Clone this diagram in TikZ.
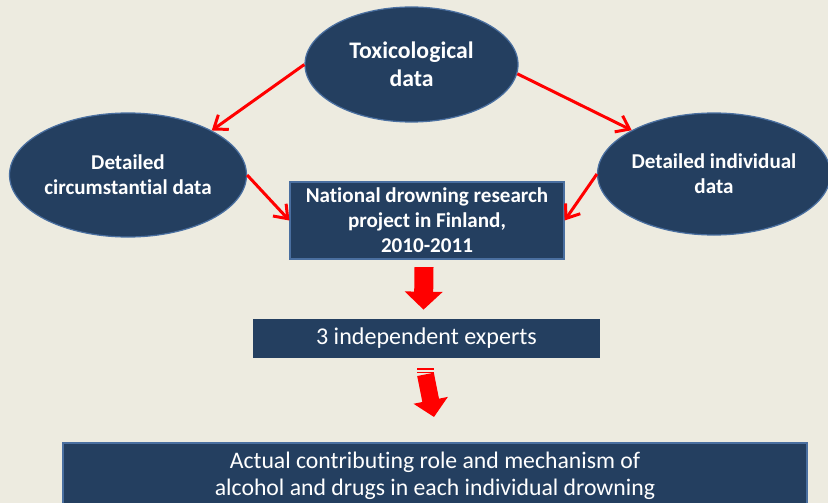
\documentclass[tikz,border=0pt]{standalone}
\usepackage{fontspec}
\setmainfont{Carlito}[Ligatures={NoCommon}]
\usetikzlibrary{arrows.meta,shapes.geometric}
\definecolor{paper}{HTML}{EDEBE0}
\definecolor{navy}{HTML}{243F60}
\definecolor{rim}{HTML}{4A6FA0}

\begin{document}
\begin{tikzpicture}[x=0.2mm, y=-0.2mm, >={Straight Barb[length=2.4mm, width=3.6mm]}]
	\tikzstyle{blob} = [ellipse, fill=navy, draw=rim, line width=0.7pt, inner sep=0pt, text=white, align=center]
	\tikzstyle{panel} = [rectangle, fill=navy, inner sep=0pt, text=white, align=center]
	\tikzstyle{link} = [->, red, line width=1.7pt]
	\tikzstyle{fat} = [red, line width=3.8mm, -{Triangle[length=3.6mm, width=7.4mm]}]
	\tikzstyle{fatter} = [red, line width=3.4mm, -{Triangle[length=3.4mm, width=6.8mm]}]

	\useasboundingbox[fill=paper] (0,0) rectangle (828,503);
	\clip (0,0) rectangle (828,503);

	% sources
	\node[blob, minimum width=42.6mm, minimum height=23mm, font=\bfseries\fontsize{13.5}{16}\selectfont] (tox) at (411.5,64.5) {Toxicological\\data};
	\node[blob, minimum width=47.4mm, minimum height=24.8mm, font=\bfseries\fontsize{12}{14.4}\selectfont] (circ) at (128,175) {Detailed\\circumstantial data};
	\node[blob, minimum width=45.6mm, minimum height=24.4mm, font=\bfseries\fontsize{12}{14.4}\selectfont] (indiv) at (714,174) {Detailed individual\\data};

	% project and outcome
	\node[panel, draw=rim, line width=0.7pt, minimum width=54.8mm, minimum height=15.4mm, font=\bfseries\fontsize{12}{14.2}\selectfont] (proj) at (427,220.5) {National drowning research\\project in Finland,\\2010-2011};
	\node[panel, minimum width=69.4mm, minimum height=7.8mm, font=\fontsize{13.7}{16}\selectfont] (experts) at (426.5,338) {3 independent experts};
	\node[panel, draw=rim, line width=1.4pt, anchor=north, minimum width=148.8mm, minimum height=13.2mm, font=\fontsize{13.5}{15.4}\selectfont] (role) at (435,442) {Actual contributing role and mechanism of\\alcohol and drugs in each individual drowning};

	\path[link]
	(tox.west) edge (circ.28)
	(tox.-5) edge (indiv.152)
	(circ.east) edge (proj.west)
	(indiv.west) edge (proj.east)
	;

	% block arrows
	\draw[fat] ([xshift=-0.6mm, yshift=-1.5mm]proj.south) -- ([xshift=-0.6mm, yshift=1.7mm]experts.north);
	\draw[fatter] ([xshift=-0.2mm, yshift=-3.3mm]experts.south) -- ([xshift=-0.2mm, yshift=5mm]role.north);
	\foreach \dy in {2.1, 2.78}
		\fill[red] ([xshift=-1.9mm, yshift=-\dy mm]experts.south) rectangle ++(3.4mm,-0.32mm);

\end{tikzpicture}
\end{document}
